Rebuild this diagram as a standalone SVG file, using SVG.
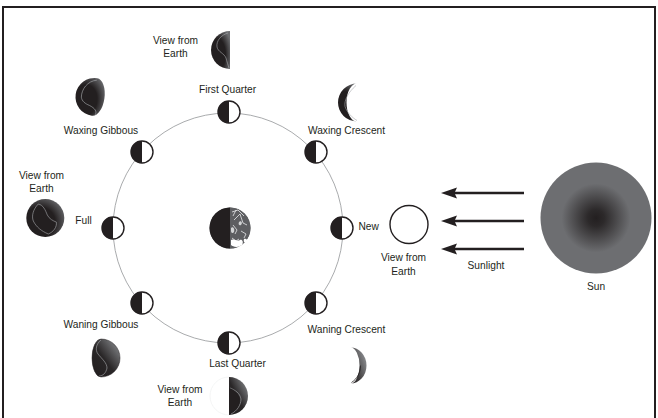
<svg xmlns="http://www.w3.org/2000/svg" xmlns:xlink="http://www.w3.org/1999/xlink" width="658" height="418" viewBox="0 0 658 418">
  <style>
    text { font-family: "Liberation Sans", Arial, sans-serif; font-size: 10.2px; fill: #231f20; text-anchor: middle; }
    .orbit { fill: none; stroke: #939598; stroke-width: 0.8; }
    .frame { fill: none; stroke: #231f20; stroke-width: 2; }
    .ray { stroke: #231f20; stroke-width: 2.4; fill: none; }
    .view { fill: url(#viewShade); }
    .rim { fill: none; stroke: #a7a9ac; stroke-width: 0.6; }
  </style>
  <defs>
    <radialGradient id="sunGlow" cx="0.5" cy="0.5" r="0.5">
      <stop offset="0" stop-color="#231f20"/>
      <stop offset="0.15" stop-color="#2c292a"/>
      <stop offset="0.62" stop-color="#6d6e71"/>
      <stop offset="1" stop-color="#6d6e71"/>
    </radialGradient>
    <radialGradient id="viewShade" cx="0.35" cy="0.62" r="0.75">
      <stop offset="0" stop-color="#231f20"/>
      <stop offset="0.55" stop-color="#231f20"/>
      <stop offset="1" stop-color="#6d6e71"/>
    </radialGradient>
    <linearGradient id="waneShade" x1="0.1" y1="0.9" x2="0.9" y2="0.1">
      <stop offset="0" stop-color="#231f20"/>
      <stop offset="0.45" stop-color="#2a2728"/>
      <stop offset="1" stop-color="#808285"/>
    </linearGradient>
    <linearGradient id="crescentShade" x1="0" y1="1" x2="1" y2="0.2">
      <stop offset="0" stop-color="#231f20"/>
      <stop offset="0.35" stop-color="#3a3738"/>
      <stop offset="1" stop-color="#939598"/>
    </linearGradient>
    <clipPath id="rightHalf">
      <rect x="0" y="-21" width="21" height="42"/>
    </clipPath>
    <marker id="head" markerUnits="userSpaceOnUse" markerWidth="16" markerHeight="12" refX="5" refY="0" orient="auto" overflow="visible">
      <path d="M0,-5.5 L16,0 L0,5.5 L2.5,0 Z" fill="#231f20"/>
    </marker>
    <!-- half-lit moon used on the orbit -->
    <g id="phase">
      <circle r="11" fill="#fff" stroke="#231f20" stroke-width="1.4"/>
      <path d="M0,-11 A11,11 0 0 0 0,11 Z" fill="#231f20"/>
    </g>
  </defs>

  <rect class="frame" x="3" y="7" width="652" height="414"/>

  <!-- orbit and sunlight rays -->
  <g id="connectors">
    <circle class="orbit" cx="228" cy="228" r="115"/>
    <line class="ray" x1="524" y1="193" x2="452" y2="193" marker-end="url(#head)"/>
    <line class="ray" x1="524" y1="221" x2="452" y2="221" marker-end="url(#head)"/>
    <line class="ray" x1="524" y1="249" x2="452" y2="249" marker-end="url(#head)"/>
  </g>

  <!-- Earth -->
  <g id="earth" transform="translate(230,228)">
    <circle r="20.5" fill="#58595b"/>
    <g clip-path="url(#rightHalf)">
      <circle r="20.5" fill="#5d5e61"/>
      <path d="M2,-16 L8,-18 L14,-12 M4,-8 L10,-14 L13,-5 L17,-3 M3,-3 L7,2 L5,6 M11,3 L16,6 L14,10 M2,10 L6,13 L9,11 M6,-18 L3,-12" stroke="#e6e7e8" stroke-width="0.8" fill="none"/>
      <path d="M1,12 C4,10 7,14 10,12 C12,11 14,14 12,17 C8,20 3,19 1,17 Z" fill="#fff"/>
      <path d="M14,11 C16,10 18,12 17,14 C15,16 13,14 14,11 Z" fill="#fff"/>
      <path d="M1,0 C3,-2 5,1 4,4 C3,6 1,5 1,3 Z" fill="#d1d3d4"/>
      <path d="M9,-6 C11,-8 13,-5 11,-3 C9,-2 8,-4 9,-6 Z" fill="#d1d3d4"/>
    </g>
    <path d="M0,-20.5 A20.5,20.5 0 0 0 0,20.5 Z" fill="#231f20"/>
  </g>

  <!-- moons on the orbit -->
  <g id="moon-first-quarter" transform="translate(229,112)"><use xlink:href="#phase"/></g>
  <g id="moon-waxing-crescent" transform="translate(316,152)"><use xlink:href="#phase"/></g>
  <g id="moon-new" transform="translate(342,228)"><use xlink:href="#phase"/></g>
  <g id="moon-waning-crescent" transform="translate(316,303)"><use xlink:href="#phase"/></g>
  <g id="moon-last-quarter" transform="translate(229,343)"><use xlink:href="#phase"/></g>
  <g id="moon-waning-gibbous" transform="translate(142,303)"><use xlink:href="#phase"/></g>
  <g id="moon-full" transform="translate(113,228)"><use xlink:href="#phase"/></g>
  <g id="moon-waxing-gibbous" transform="translate(142,152)"><use xlink:href="#phase"/></g>

  <!-- phase labels -->
  <g id="labels">
    <text x="227.5" y="92.5">First Quarter</text>
    <text x="101" y="134">Waxing Gibbous</text>
    <text x="346.5" y="134">Waxing Crescent</text>
    <text x="83.5" y="223.5">Full</text>
    <text x="358.5" y="230" style="text-anchor:start">New</text>
    <text x="101" y="328">Waning Gibbous</text>
    <text x="346.5" y="333">Waning Crescent</text>
    <text x="237.5" y="367">Last Quarter</text>
    <text x="486" y="269">Sunlight</text>
    <text x="596" y="290">Sun</text>
  </g>

  <!-- views from Earth -->
  <g id="view-first-quarter">
    <text x="175.5" y="43.5">View from</text>
    <text x="175.5" y="57">Earth</text>
    <g transform="translate(230,50)">
      <path class="view" d="M0,-19 A19,19 0 0 0 0,19 Z"/>
      <path class="rim" d="M-2,-17 C-9,-15 -14,-9 -13,-3 C-12,2 -6,3 -4,8 C-3,12 -2,15 -1,18"/>
    </g>
  </g>

  <g id="view-waxing-gibbous" transform="translate(94.5,97) rotate(8)">
    <path class="view" d="M0,-19 A19,19 0 0 0 0,19 A10,19 0 0 0 0,-19 Z"/>
    <path class="rim" d="M0,-17 C-9,-15 -14,-6 -13,2 C-12,6 -8,8 -4,9 C2,11 5,14 3,18"/>
  </g>

  <g id="view-waxing-crescent" transform="translate(357,102.5)">
    <path class="view" d="M0,-19 A19,19 0 0 0 0,19 A10.5,19 0 0 1 0,-19 Z"/>
    <path class="rim" d="M-1,-17 C-9,-10 -13,-2 -12,4 C-10,10 -5,15 0,18"/>
  </g>

  <g id="view-full">
    <text x="41.5" y="178.5">View from</text>
    <text x="41.5" y="192">Earth</text>
    <g transform="translate(45.3,218)">
      <circle class="view" r="19"/>
      <path class="rim" d="M-7,-14 C-12,-9 -14,-2 -12,3 C-9,9 -4,13 3,16 C8,14 12,9 11,4 C8,3 4,1 2,-3 C0,-8 -2,-13 -7,-14 Z"/>
    </g>
  </g>

  <g id="view-new">
    <circle cx="409" cy="224.5" r="19" fill="#fff" stroke="#231f20" stroke-width="1.4"/>
    <text x="403.5" y="261">View from</text>
    <text x="403.5" y="274.5">Earth</text>
  </g>

  <g id="view-waning-gibbous" transform="translate(101,358)">
    <path d="M0,-19 A19,19 0 0 1 0,19 A9,19 0 0 1 0,-19 Z" fill="url(#waneShade)"/>
    <path class="rim" d="M0,-18 C-5,-14 -6,-8 -3,-4 C1,1 6,5 6,10 C5,15 2,18 -2,18" stroke="#bcbec0"/>
    <path d="M0,-19 A19,19 0 0 1 0,19 A9,19 0 0 1 0,-19 Z" fill="none" stroke="#231f20" stroke-width="0.5"/>
  </g>

  <g id="view-waning-crescent" transform="translate(350.5,365.5)">
    <path d="M0,-18 A16,18 0 0 1 0,18 A9,18 0 0 0 0,-18 Z" fill="url(#crescentShade)"/>
    <path d="M1,17 C7,13 10,7 10,0" fill="none" stroke="#231f20" stroke-width="0.8"/>
  </g>

  <g id="view-last-quarter">
    <text x="180" y="392.5">View from</text>
    <text x="180" y="406">Earth</text>
    <g transform="translate(229,396)">
      <path d="M0,-19 A19,19 0 0 0 0,19" fill="none" stroke="#f1f2f2" stroke-width="0.8"/>
      <path d="M0,-19 A19,19 0 0 1 0,19 Z" fill="url(#waneShade)"/>
      <path class="rim" d="M1,-8 C6,-6 11,-3 12,3 C12,9 8,15 2,18" stroke="#bcbec0"/>
      <path d="M0,-8 C5,-6 10,-2 11,3 C11,9 7,15 0,18 Z" fill="#231f20"/>
    </g>
  </g>

  <!-- Sun -->
  <g id="sun">
    <circle cx="596" cy="218" r="55.5" fill="url(#sunGlow)"/>
  </g>
</svg>
